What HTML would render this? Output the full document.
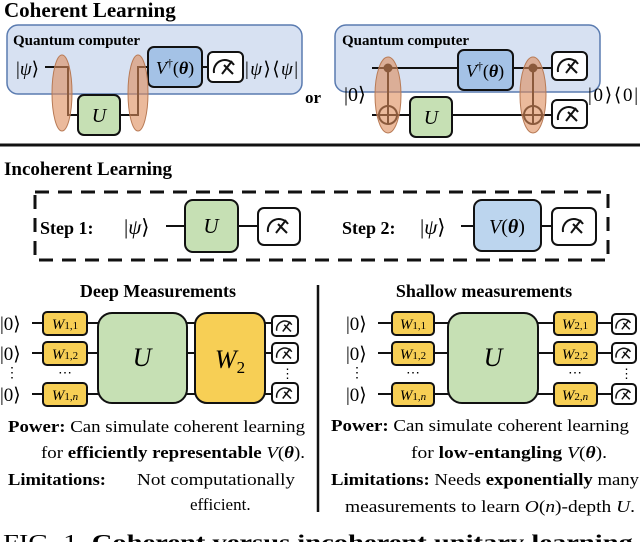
<!DOCTYPE html>
<html><head><meta charset="utf-8"><style>
html,body{margin:0;padding:0;background:#fff;}
svg{display:block;font-family:"Liberation Serif",serif;}
.b{font-weight:bold}
.i{font-style:italic}
</style></head><body>
<svg width="640" height="542" viewBox="0 0 640 542" xmlns="http://www.w3.org/2000/svg">
<defs>
<g id="meter"><path d="M-11,5 A11,11 0 0 1 9,-3" fill="none" stroke="#111" stroke-width="2"/><line x1="-3" y1="6" x2="7" y2="-7" stroke="#111" stroke-width="2"/><line x1="-1" y1="-3" x2="8" y2="6" stroke="#111" stroke-width="2"/></g>
</defs>
<text x="4" y="17" class="b" font-size="21">Coherent Learning</text>
<!-- left QC -->
<rect x="7" y="25" width="295" height="69" rx="11" fill="#d7e1f2" stroke="#5a7bb0" stroke-width="1.5"/>
<text x="13" y="45" class="b" font-size="15">Quantum computer</text>
<text x="16" y="75" font-size="19">|<tspan class="i">ψ</tspan>⟩</text>
<polyline points="45,67 68,67 68,115 78,115" fill="none" stroke="#111" stroke-width="2"/>
<polyline points="120,115 138,115 138,67 148,67" fill="none" stroke="#111" stroke-width="2"/>
<line x1="202" y1="67" x2="208" y2="67" stroke="#111" stroke-width="2"/>
<rect x="78" y="95" width="42" height="40" rx="6" fill="#c6e0b4" stroke="#111" stroke-width="2"/>
<text x="99" y="122" text-anchor="middle" class="i" font-size="20">U</text>
<rect x="148" y="47" width="54" height="40" rx="6" fill="#a4c2e6" stroke="#111" stroke-width="2"/>
<text x="175" y="74" text-anchor="middle" font-size="18"><tspan class="i">V</tspan><tspan font-size="12" dy="-7">†</tspan><tspan dy="7">(</tspan><tspan class="b i">θ</tspan>)</text>
<rect x="208" y="52" width="35" height="30" rx="5" fill="#fff" stroke="#111" stroke-width="2"/>
<use href="#meter" x="225" y="68"/>
<text x="245" y="75" font-size="19" textLength="53">|<tspan class="i">ψ</tspan>⟩⟨<tspan class="i">ψ</tspan>|</text>
<ellipse cx="62" cy="93" rx="10" ry="38" fill="rgba(222,140,90,0.6)" stroke="#b87a55" stroke-width="1"/>
<ellipse cx="138" cy="93" rx="10" ry="38" fill="rgba(222,140,90,0.6)" stroke="#b87a55" stroke-width="1"/>
<text x="305" y="103" class="b" font-size="17">or</text>
<!-- right QC -->
<rect x="335" y="25" width="265" height="67" rx="11" fill="#d7e1f2" stroke="#5a7bb0" stroke-width="1.5"/>
<text x="342" y="45" class="b" font-size="15">Quantum computer</text>
<text x="344" y="101" font-size="20">|0⟩</text>
<line x1="372" y1="68" x2="552" y2="68" stroke="#111" stroke-width="2"/>
<line x1="372" y1="115" x2="552" y2="115" stroke="#111" stroke-width="2"/>
<rect x="410" y="97" width="42" height="40" rx="6" fill="#c6e0b4" stroke="#111" stroke-width="2"/>
<text x="431" y="124" text-anchor="middle" class="i" font-size="20">U</text>
<rect x="458" y="50" width="55" height="40" rx="6" fill="#a4c2e6" stroke="#111" stroke-width="2"/>
<text x="485" y="77" text-anchor="middle" font-size="18"><tspan class="i">V</tspan><tspan font-size="12" dy="-7">†</tspan><tspan dy="7">(</tspan><tspan class="b i">θ</tspan>)</text>
<g stroke="#111" stroke-width="2" fill="none">
<circle cx="388" cy="68" r="3.5" fill="#111"/><line x1="388" y1="68" x2="388" y2="124"/><circle cx="388" cy="115" r="9"/><line x1="379" y1="115" x2="397" y2="115"/>
<circle cx="533" cy="68" r="3.5" fill="#111"/><line x1="533" y1="68" x2="533" y2="124"/><circle cx="533" cy="115" r="9"/><line x1="524" y1="115" x2="542" y2="115"/>
</g>
<ellipse cx="388" cy="95" rx="13" ry="38" fill="rgba(222,140,90,0.6)" stroke="#b87a55" stroke-width="1"/>
<ellipse cx="533" cy="95" rx="13" ry="38" fill="rgba(222,140,90,0.6)" stroke="#b87a55" stroke-width="1"/>
<rect x="552" y="52" width="35" height="28" rx="5" fill="#fff" stroke="#111" stroke-width="2"/>
<use href="#meter" x="569" y="67"/>
<rect x="552" y="100" width="35" height="28" rx="5" fill="#fff" stroke="#111" stroke-width="2"/>
<use href="#meter" x="569" y="115"/>
<text x="588" y="101" font-size="19" textLength="50">|0⟩⟨0|</text>
<line x1="0" y1="145" x2="640" y2="145" stroke="#111" stroke-width="3"/>
<!-- incoherent -->
<text x="4" y="175" class="b" font-size="19">Incoherent Learning</text>
<rect x="35" y="192" width="573" height="68" fill="none" stroke="#111" stroke-width="3" stroke-dasharray="14,9"/>
<text x="40" y="234" class="b" font-size="18">Step 1:</text>
<text x="124" y="234" font-size="21">|<tspan class="i">ψ</tspan>⟩</text>
<line x1="166" y1="226" x2="258" y2="226" stroke="#111" stroke-width="2"/>
<rect x="185" y="200" width="53" height="52" rx="8" fill="#c6e0b4" stroke="#111" stroke-width="2"/>
<text x="211" y="233" text-anchor="middle" class="i" font-size="21">U</text>
<rect x="258" y="208" width="42" height="37" rx="6" fill="#fff" stroke="#111" stroke-width="2"/>
<use href="#meter" x="279" y="227"/>
<text x="342" y="234" class="b" font-size="18">Step 2:</text>
<text x="420" y="234" font-size="21">|<tspan class="i">ψ</tspan>⟩</text>
<line x1="461" y1="226" x2="552" y2="226" stroke="#111" stroke-width="2"/>
<rect x="474" y="200" width="67" height="51" rx="8" fill="#bcd5ee" stroke="#111" stroke-width="2"/>
<text x="507" y="233" text-anchor="middle" font-size="20"><tspan class="i">V</tspan>(<tspan class="b i">θ</tspan>)</text>
<rect x="552" y="208" width="44" height="37" rx="6" fill="#fff" stroke="#111" stroke-width="2"/>
<use href="#meter" x="574" y="227"/>
<!-- deep -->
<text x="158" y="297" text-anchor="middle" class="b" font-size="18">Deep Measurements</text>
<g stroke="#111" stroke-width="2">
<line x1="32" y1="323" x2="290" y2="323"/><line x1="32" y1="353" x2="290" y2="353"/><line x1="32" y1="394" x2="290" y2="394"/>
</g>
<g font-size="19"><text x="0" y="330">|0⟩</text><text x="0" y="360">|0⟩</text><text x="0" y="401">|0⟩</text></g>
<text x="5" y="377" font-size="14">⋮</text>
<g fill="#f7cf55" stroke="#111" stroke-width="2">
<rect x="43" y="312" width="44" height="23" rx="4"/><rect x="43" y="342" width="44" height="23" rx="4"/><rect x="43" y="383" width="44" height="23" rx="4"/>
</g>
<g font-size="15" text-anchor="middle"><text x="65" y="329"><tspan class="i">W</tspan><tspan font-size="11">1,1</tspan></text><text x="65" y="359"><tspan class="i">W</tspan><tspan font-size="11">1,2</tspan></text><text x="65" y="400"><tspan class="i">W</tspan><tspan font-size="11">1,<tspan class="i">n</tspan></tspan></text></g>
<text x="65" y="377" text-anchor="middle" font-size="14">⋯</text>
<rect x="98" y="313" width="89" height="90" rx="14" fill="#c6e0b4" stroke="#111" stroke-width="2"/>
<text x="142" y="366" text-anchor="middle" class="i" font-size="26">U</text>
<rect x="195" y="313" width="70" height="90" rx="12" fill="#f7cf55" stroke="#111" stroke-width="2"/>
<text x="230" y="368" text-anchor="middle" font-size="26"><tspan class="i">W</tspan><tspan font-size="17" dy="5">2</tspan></text>
<g fill="#fff" stroke="#111" stroke-width="2">
<rect x="272" y="316" width="26" height="20" rx="4"/><rect x="272" y="343" width="26" height="20" rx="4"/><rect x="272" y="383" width="26" height="20" rx="4"/>
</g>
<use href="#meter" x="285" y="327" transform="translate(285,327) scale(0.75) translate(-285,-327)"/>
<use href="#meter" x="285" y="354" transform="translate(285,354) scale(0.75) translate(-285,-354)"/>
<use href="#meter" x="285" y="394" transform="translate(285,394) scale(0.75) translate(-285,-394)"/>
<text x="281" y="378" font-size="13">⋮</text>
<line x1="318" y1="285" x2="318" y2="512" stroke="#111" stroke-width="2.5"/>
<!-- shallow -->
<text x="484" y="297" text-anchor="middle" class="b" font-size="18">Shallow measurements</text>
<g stroke="#111" stroke-width="2">
<line x1="378" y1="323" x2="612" y2="323"/><line x1="378" y1="353" x2="612" y2="353"/><line x1="378" y1="394" x2="612" y2="394"/>
</g>
<g font-size="19"><text x="346" y="330">|0⟩</text><text x="346" y="360">|0⟩</text><text x="346" y="401">|0⟩</text></g>
<text x="350" y="377" font-size="14">⋮</text>
<g fill="#f7cf55" stroke="#111" stroke-width="2">
<rect x="392" y="312" width="42" height="23" rx="4"/><rect x="392" y="342" width="42" height="23" rx="4"/><rect x="392" y="383" width="42" height="23" rx="4"/>
<rect x="554" y="312" width="43" height="23" rx="4"/><rect x="554" y="342" width="43" height="23" rx="4"/><rect x="554" y="383" width="43" height="23" rx="4"/>
</g>
<g font-size="15" text-anchor="middle"><text x="413" y="329"><tspan class="i">W</tspan><tspan font-size="11">1,1</tspan></text><text x="413" y="359"><tspan class="i">W</tspan><tspan font-size="11">1,2</tspan></text><text x="413" y="400"><tspan class="i">W</tspan><tspan font-size="11">1,<tspan class="i">n</tspan></tspan></text>
<text x="575" y="329"><tspan class="i">W</tspan><tspan font-size="11">2,1</tspan></text><text x="575" y="359"><tspan class="i">W</tspan><tspan font-size="11">2,2</tspan></text><text x="575" y="400"><tspan class="i">W</tspan><tspan font-size="11">2,<tspan class="i">n</tspan></tspan></text></g>
<text x="413" y="377" text-anchor="middle" font-size="14">⋯</text>
<text x="575" y="377" text-anchor="middle" font-size="14">⋯</text>
<rect x="448" y="313" width="90" height="90" rx="14" fill="#c6e0b4" stroke="#111" stroke-width="2"/>
<text x="493" y="366" text-anchor="middle" class="i" font-size="26">U</text>
<g fill="#fff" stroke="#111" stroke-width="2">
<rect x="612" y="314" width="24" height="20" rx="4"/><rect x="612" y="343" width="24" height="20" rx="4"/><rect x="612" y="384" width="24" height="20" rx="4"/>
</g>
<use href="#meter" x="624" y="325" transform="translate(624,325) scale(0.72) translate(-624,-325)"/>
<use href="#meter" x="624" y="354" transform="translate(624,354) scale(0.72) translate(-624,-354)"/>
<use href="#meter" x="624" y="395" transform="translate(624,395) scale(0.72) translate(-624,-395)"/>
<text x="620" y="378" font-size="13">⋮</text>
<!-- text -->
<g font-size="17">
<text x="8" y="432" textLength="297" lengthAdjust="spacingAndGlyphs"><tspan class="b">Power:</tspan> Can simulate coherent learning</text>
<text x="41" y="458" textLength="264" lengthAdjust="spacingAndGlyphs">for <tspan class="b">efficiently representable</tspan> <tspan class="i">V</tspan>(<tspan class="b i">θ</tspan>).</text>
<text x="8" y="485" class="b" textLength="98" lengthAdjust="spacingAndGlyphs">Limitations:</text>
<text x="137" y="485" textLength="158" lengthAdjust="spacingAndGlyphs">Not computationally</text>
<text x="190" y="510">efficient.</text>
<text x="331" y="431" textLength="298" lengthAdjust="spacingAndGlyphs"><tspan class="b">Power:</tspan> Can simulate coherent learning</text>
<text x="411" y="458" textLength="196" lengthAdjust="spacingAndGlyphs">for <tspan class="b">low-entangling</tspan> <tspan class="i">V</tspan>(<tspan class="b i">θ</tspan>).</text>
<text x="331" y="485" textLength="308" lengthAdjust="spacingAndGlyphs"><tspan class="b">Limitations:</tspan> Needs <tspan class="b">exponentially</tspan> many</text>
<text x="345" y="512" textLength="290" lengthAdjust="spacingAndGlyphs">measurements to learn <tspan class="i">O</tspan>(<tspan class="i">n</tspan>)-depth <tspan class="i">U</tspan>.</text>
</g>
<text x="3" y="549" font-size="21" textLength="637" lengthAdjust="spacingAndGlyphs">FIG. 1. <tspan class="b">Coherent versus incoherent unitary learning.</tspan></text>
</svg>
</body></html>
